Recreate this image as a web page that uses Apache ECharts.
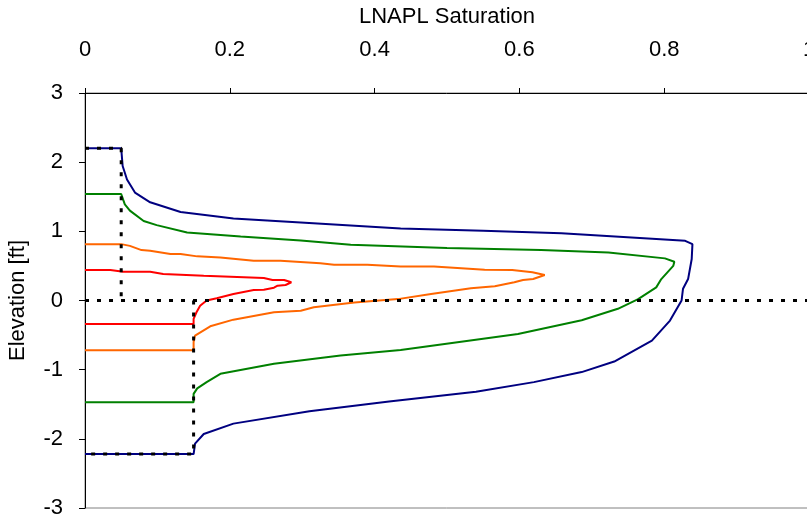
<!DOCTYPE html>
<html>
<head>
<meta charset="utf-8">
<script src="https://cdn.jsdelivr.net/npm/echarts@6/dist/echarts.min.js"></script>
<style>
  html, body { margin: 0; padding: 0; background: #fff; }
  #chart { width: 807px; height: 517px; }
</style>
</head>
<body>
<div id="chart"></div>
<script>
// LNAPL saturation profiles [saturation, elevation ft], traced from the top of
// each profile along the upper branch to its tip, then back down the lower branch.
const profileA = [
  [0, 2.2], [0.05, 2.2], [0.052, 1.945], [0.058, 1.75], [0.069, 1.56], [0.09, 1.42],
  [0.132, 1.28], [0.205, 1.186], [0.298, 1.128], [0.436, 1.042], [0.55, 1.01],
  [0.658, 0.974], [0.829, 0.863], [0.839, 0.815], [0.838, 0.6], [0.833, 0.31],
  [0.826, 0.17], [0.824, 0], [0.808, -0.29], [0.783, -0.58], [0.731, -0.883],
  [0.686, -1.035], [0.62, -1.18], [0.54, -1.32], [0.42, -1.46], [0.31, -1.6],
  [0.205, -1.78], [0.164, -1.93], [0.152, -2.07], [0.15, -2.22], [0, -2.22]
];
const profileB = [
  [0, 1.54], [0.05, 1.54], [0.055, 1.39], [0.062, 1.3], [0.081, 1.15], [0.099, 1.09],
  [0.141, 0.984], [0.215, 0.926], [0.298, 0.868], [0.367, 0.805], [0.5, 0.76],
  [0.63, 0.729], [0.723, 0.695], [0.801, 0.609], [0.814, 0.56], [0.8125, 0.5],
  [0.796, 0.31], [0.789, 0.19], [0.764, 0.02], [0.736, -0.12], [0.686, -0.285],
  [0.598, -0.483], [0.436, -0.714], [0.353, -0.796], [0.261, -0.916], [0.187, -1.06],
  [0.168, -1.18], [0.155, -1.27], [0.15, -1.35], [0.15, -1.47], [0, -1.47]
];
const profileC = [
  [0, 0.815], [0.05, 0.815], [0.062, 0.79], [0.078, 0.729], [0.09, 0.72], [0.118, 0.671],
  [0.132, 0.671], [0.155, 0.638], [0.187, 0.623], [0.233, 0.574], [0.27, 0.575],
  [0.325, 0.54], [0.344, 0.517], [0.39, 0.517], [0.436, 0.49], [0.482, 0.49],
  [0.552, 0.445], [0.59, 0.44], [0.618, 0.407], [0.635, 0.368], [0.619, 0.31],
  [0.605, 0.296], [0.593, 0.263], [0.566, 0.205], [0.533, 0.176], [0.478, 0.094],
  [0.432, 0.02], [0.372, -0.03], [0.316, -0.098], [0.298, -0.147], [0.261, -0.17],
  [0.205, -0.277], [0.173, -0.373], [0.152, -0.508], [0.15, -0.6], [0.15, -0.72], [0, -0.72]
];
const profileD = [
  [0, 0.44], [0.035, 0.44], [0.053, 0.416], [0.09, 0.416], [0.108, 0.382], [0.164, 0.358],
  [0.201, 0.344], [0.247, 0.325], [0.259, 0.296], [0.275, 0.296], [0.285, 0.263],
  [0.277, 0.224], [0.266, 0.214], [0.261, 0.185], [0.247, 0.156], [0.233, 0.151],
  [0.205, 0.094], [0.182, 0.032], [0.168, 0], [0.159, -0.075], [0.154, -0.17],
  [0.15, -0.267], [0.15, -0.34], [0, -0.34]
];
// Reference step profile and the water-table line (dotted)
const stepUpper = [[0, 2.2], [0.05, 2.2], [0.05, 0]];
const stepLower = [[0.15, 0], [0.15, -2.22], [0, -2.22]];
const waterTable = [[0, 0], [1, 0]];

const xTicks = { min: 0, max: 1, interval: 0.2 };
const yTicks = { min: -3, max: 3, interval: 1 };

const FONT = 'Liberation Sans, Arial, sans-serif';
const FS = 22;
const dotted = { color: '#000', width: 3, type: [4, 8], cap: 'butt' };

function curve(name, data, color) {
  return {
    name, type: 'line', data, showSymbol: false, symbol: 'none',
    lineStyle: { color, width: 2 }, animation: false, z: 2
  };
}
function dots(name, data) {
  return {
    name, type: 'line', data, showSymbol: false, symbol: 'none',
    lineStyle: dotted, animation: false, z: 3
  };
}

const chart = echarts.init(document.getElementById('chart'), null, { renderer: 'canvas' });
chart.setOption({
  backgroundColor: '#fff',
  animation: false,
  grid: {
    left: 85, top: 93, right: -2, bottom: 9,
    outerBoundsMode: 'none', containLabel: false,
    show: true, borderColor: '#808080', borderWidth: 1, backgroundColor: 'transparent'
  },
  xAxis: {
    type: 'value', position: 'top', min: xTicks.min, max: xTicks.max, interval: xTicks.interval,
    name: 'LNAPL Saturation', nameLocation: 'middle', nameGap: 65,
    nameTextStyle: { fontFamily: FONT, fontSize: FS, color: '#000' },
    axisLine: { show: true, onZero: false, lineStyle: { color: '#000', width: 1 } },
    axisTick: { show: true, inside: false, length: 5, lineStyle: { color: '#000' } },
    axisLabel: { fontFamily: FONT, fontSize: FS, color: '#000', margin: 32 },
    splitLine: { show: false }
  },
  yAxis: {
    type: 'value', min: yTicks.min, max: yTicks.max, interval: yTicks.interval,
    name: 'Elevation [ft]', nameLocation: 'middle', nameGap: 56, nameRotate: 90,
    nameTextStyle: { fontFamily: FONT, fontSize: FS, color: '#000' },
    axisLine: { show: true, onZero: false, lineStyle: { color: '#000', width: 1 } },
    axisTick: { show: true, inside: false, length: 6, lineStyle: { color: '#000' } },
    axisLabel: { fontFamily: FONT, fontSize: FS, color: '#000', margin: 22 },
    splitLine: { show: false }
  },
  series: [
    curve('Profile A', profileA, '#000080'),
    curve('Profile B', profileB, '#008000'),
    curve('Profile C', profileC, '#FF6600'),
    curve('Profile D', profileD, '#FF0000'),
    dots('Step upper', stepUpper),
    dots('Step lower', stepLower),
    dots('Water table', waterTable)
  ]
});
</script>
</body>
</html>
